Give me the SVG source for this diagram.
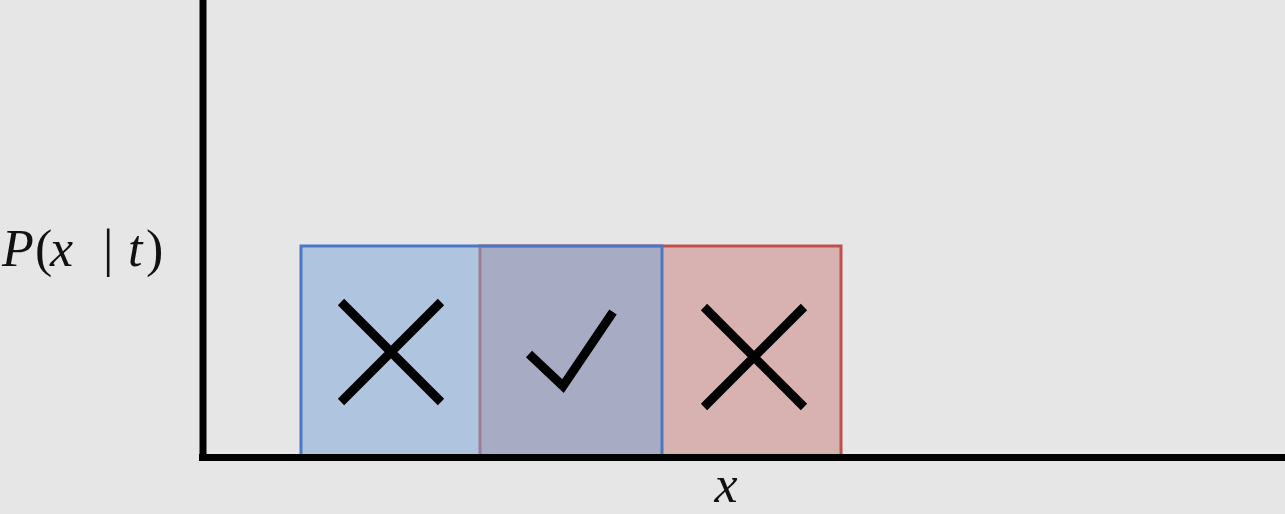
<svg xmlns="http://www.w3.org/2000/svg" width="1285" height="514" viewBox="0 0 1285 514">
<style>
.lbl{font-family:"Liberation Serif","DejaVu Serif",serif;font-size:52px;fill:#111}
.it{font-style:italic}
.mark{fill:none;stroke:#000;stroke-width:9;stroke-linecap:butt;stroke-linejoin:miter}
.axis{stroke:#000;stroke-width:7;fill:none}
</style>
<rect width="1285" height="514" fill="#e6e6e6"/>
<g id="red-box">
<rect x="480" y="246" width="361" height="211" fill="#d8b2b0" stroke="#c0504d" stroke-width="3"/>
</g>
<g id="blue-box">
<rect x="301" y="246" width="361" height="211" fill="rgb(124,165,215)" fill-opacity="0.52" stroke="none"/>
<rect x="301" y="246" width="361" height="211" fill="none" stroke="#4a78c4" stroke-width="3"/>
</g>
<g id="marks">
<path class="mark" d="M341 302 L441 402 M441 302 L341 402"/>
<path class="mark" d="M529 354 L563 386 L613 312"/>
<path class="mark" d="M704 307 L804 407 M804 307 L704 407"/>
</g>
<g id="connectors">
<line class="axis" x1="203" y1="0" x2="203" y2="461"/>
<line class="axis" x1="199" y1="457.5" x2="1285" y2="457.5"/>
</g>
<g id="labels">
<text class="lbl" y="266"><tspan class="it" x="2">P</tspan><tspan x="35">(</tspan><tspan class="it" x="50">x</tspan><tspan x="103">|</tspan><tspan class="it" x="128">t</tspan><tspan x="146">)</tspan></text>
<text class="lbl it" x="726" y="502" text-anchor="middle" font-size="50">x</text>
</g>
</svg>
